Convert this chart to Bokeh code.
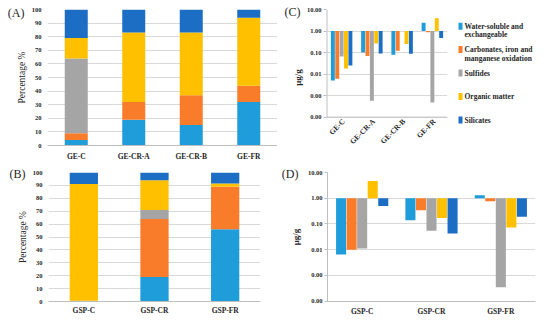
import math
from bokeh.plotting import figure
from bokeh.layouts import row, column
from bokeh.models import (FactorRange, Range1d, FixedTicker, CustomJSTickFormatter,
                          LinearAxis, ColumnDataSource)
from bokeh.transform import dodge
from bokeh.embed import file_html
from bokeh.resources import INLINE
from bokeh.core.properties import value

# ---------------- data ----------------
keys = ["ws", "carb", "sulf", "org", "sil"]
legend_lines = [["Water-soluble and", "exchangeable"],
                ["Carbonates, iron and", "manganese oxidation"],
                ["Sulfides"], ["Organic matter"], ["Silicates"]]
colors = ["#1E9DDA", "#F97C2A", "#A5A5A5", "#FFC000", "#1C6EC4"]

ge_cats = ["GE-C", "GE-CR-A", "GE-CR-B", "GE-FR"]
gsp_cats = ["GSP-C", "GSP-CR", "GSP-FR"]

# (A) percentage
a_ws = [4, 19, 15, 32]
a_carb = [5, 13, 22, 12]
a_sulf = [55, 0, 0, 0]
a_org = [15, 51, 46, 50]
a_sil = [21, 17, 17, 6]

# (B) percentage
b_ws = [0, 19, 56]
b_carb = [0.5, 45, 33]
b_sulf = [0, 7, 0]
b_org = [90.5, 23, 2.5]
b_sil = [9, 6, 8.5]

# (C) ug/g
c_ws = [0.005, 0.10, 0.078, 2.4]
c_carb = [0.006, 0.07, 0.12, 0.88]
c_sulf = [0.065, 0.00057, 1.0, 0.00048]
c_org = [0.018, 0.26, 0.25, 3.9]
c_sil = [0.025, 0.09, 0.087, 0.48]

# (D) ug/g
d_ws = [0.0066, 0.14, 1.3]
d_carb = [0.010, 0.34, 0.77]
d_sulf = [0.0113, 0.055, 0.00035]
d_org = [4.7, 0.17, 0.073]
d_sil = [0.50, 0.043, 0.19]

pct_ticks = [0, 10, 20, 30, 40, 50, 60, 70, 80, 90, 100]
log_ticks = [0.0001, 0.001, 0.01, 0.1, 1, 10]

FONT = "Liberation Serif"
TXT = "#262626"
GRID = "#D9D9D9"
AXIS = "#BFBFBF"


def base_fig(x_range, y_range, w, h, bl, br, bt, bb, y_type="linear"):
    p = figure(x_range=x_range, y_range=y_range, width=w, height=h,
               y_axis_type=y_type, output_backend="svg", toolbar_location=None,
               min_border_left=bl, min_border_right=br, min_border_top=bt,
               min_border_bottom=bb)
    p.outline_line_color = None
    p.xgrid.grid_line_color = None
    p.ygrid.grid_line_color = GRID
    p.xaxis.major_tick_line_color = None
    p.xaxis.minor_tick_line_color = None
    p.xaxis.major_tick_out = 0
    p.xaxis.axis_line_color = AXIS
    p.yaxis.minor_tick_line_color = None
    for ax in (p.xaxis, p.yaxis):
        ax.major_label_text_font = FONT
        ax.major_label_text_font_style = "bold"
        ax.major_label_text_color = TXT
        ax.axis_label_text_font = FONT
        ax.axis_label_text_color = TXT
    p.xaxis.major_label_text_font_size = "7.5px"
    p.yaxis.major_label_text_font_size = "6.5px"
    return p


def panel_label(p, lab, y_at):
    # an extra, tick-less left axis whose single tick label is the panel tag;
    # a negative standoff keeps it from widening the left border
    ax = LinearAxis(ticker=FixedTicker(ticks=[y_at]),
                    formatter=CustomJSTickFormatter(code="return '%s';" % lab))
    ax.axis_line_color = None
    ax.major_tick_line_color = None
    ax.minor_tick_line_color = None
    ax.major_tick_out = 0
    ax.major_tick_in = 0
    ax.major_label_standoff = -11
    ax.major_label_text_font = FONT
    ax.major_label_text_font_size = "12px"
    ax.major_label_text_color = TXT
    p.add_layout(ax, "left")


def stacked(cats, vals, w, h, bl, br, bt, bb, xstand):
    src = ColumnDataSource(dict(cat=cats, **dict(zip(keys, vals))))
    p = base_fig(FactorRange(*cats), Range1d(0, 100), w, h, bl, br, bt, bb)
    p.vbar_stack(keys, x="cat", width=0.4, fill_color=colors, line_color=None, source=src)
    p.yaxis.ticker = FixedTicker(ticks=pct_ticks)
    p.ygrid.ticker = FixedTicker(ticks=pct_ticks)
    p.yaxis.axis_line_color = None
    p.yaxis.major_tick_line_color = None
    p.yaxis.major_tick_out = 0
    p.yaxis.major_label_standoff = 6
    p.yaxis.axis_label = "Percentage %"
    p.yaxis.axis_label_text_font_size = "9.5px"
    p.yaxis.axis_label_text_font_style = "normal"
    p.yaxis.axis_label_standoff = 2
    p.xaxis.major_label_standoff = xstand
    return p


def grouped(cats, vals, w, h, bl, br, bt, bb, y_lo, bw, step, ylstand, xstand, own_x):
    src = ColumnDataSource(dict(cat=cats, **dict(zip(keys, vals))))
    p = base_fig(FactorRange(*cats), Range1d(y_lo, log_ticks[-1]), w, h,
                 bl, br, bt, bb, y_type="log")
    n = len(keys)
    for i, k in enumerate(keys):
        off = (i - (n - 1) / 2) * step
        p.vbar(x=dodge("cat", off, range=p.x_range), top=k, bottom=1, width=bw,
               fill_color=colors[i], line_color=None, source=src)
    p.yaxis.ticker = FixedTicker(ticks=log_ticks)
    p.ygrid.ticker = FixedTicker(ticks=log_ticks)
    p.yaxis.formatter = CustomJSTickFormatter(code="return tick.toFixed(2);")
    p.yaxis.major_tick_line_color = AXIS
    p.yaxis.major_tick_out = 3
    p.yaxis.major_tick_in = 0
    p.yaxis.major_label_standoff = 2
    p.yaxis.axis_label = "μg/g"
    p.yaxis.axis_label_text_font_size = "9px"
    p.yaxis.axis_label_text_font_style = "bold"
    p.yaxis.axis_label_standoff = ylstand
    p.xaxis.major_label_standoff = xstand
    if own_x:
        # axis lines end at the lowest tick; category labels drawn rotated below it
        p.xaxis.visible = False
        p.yaxis.axis_line_color = None
        p.segment(x0=[0], y0=[log_ticks[0]], x1=[0], y1=[log_ticks[-1]],
                  line_color=AXIS, line_width=2)
        p.segment(x0=[0], y0=[log_ticks[0]], x1=[len(cats)], y1=[log_ticks[0]],
                  line_color=AXIS, line_width=1)
        p.text(x="cat", y=log_ticks[0], text="cat", source=src, angle=math.pi / 4,
               text_align="right", text_baseline="middle", x_offset=2, y_offset=3,
               text_font=value(FONT), text_font_style="bold", text_font_size="7.5px",
               text_color=TXT)
    else:
        p.yaxis.axis_line_color = AXIS
    return p


# row 1 : frames share top 9 / bottom 148 (row alignment)
pA = stacked(ge_cats, [a_ws, a_carb, a_sulf, a_org, a_sil], 277, 163, 47, 0, 9, 15, 6)
panel_label(pA, "(A)", 97.1)

C_LO = 10 ** (-4 - 29 / 22)
pC = grouped(ge_cats, [c_ws, c_carb, c_sulf, c_org, c_sil], 173, 163, 49, 3, 9, 15,
             C_LO, 0.13, 0.145, 1, 2, True)
panel_label(pC, "(C)", 7.3)

# legend panel (separate small figure to the right of C)
pL = figure(x_range=Range1d(0, 100), y_range=Range1d(148, 9), width=100, height=163,
            x_axis_type=None, y_axis_type=None, output_backend="svg",
            toolbar_location=None, min_border_left=0, min_border_right=0,
            min_border_top=9, min_border_bottom=15)
pL.outline_line_color = None
pL.xgrid.grid_line_color = None
pL.ygrid.grid_line_color = None
sq_x, sq_y, tx, ty, tt = [], [], [], [], []
for i, lines in enumerate(legend_lines):
    y0 = 26 + 24 * i
    sq_x.append(10)
    sq_y.append(y0)
    for j, line in enumerate(lines):
        tx.append(14)
        ty.append(y0 + 9 * j)
        tt.append(line)
pL.rect(x=sq_x, y=sq_y, width=4, height=7, width_units="screen", height_units="screen",
        fill_color=colors, line_color=None)
pL.text(x=tx, y=ty, text=tt, text_baseline="middle", text_align="left",
        text_font=value(FONT), text_font_style="bold", text_font_size="7.5px",
        text_color=TXT)

# row 2 : frames share top 172 / bottom 301
pB = stacked(gsp_cats, [b_ws, b_carb, b_sulf, b_org, b_sil], 270, 164, 48, 10, 9, 26, 4)
panel_label(pB, "(B)", 99.2)
pD = grouped(gsp_cats, [d_ws, d_carb, d_sulf, d_org, d_sil], 280, 164, 57, 15, 9, 26,
             10 ** (-4.01), 0.145, 0.152, 4, 5, False)
panel_label(pD, "(D)", 9.1)

layout = column(row(pA, pC, pL), row(pB, pD))
open("out.html", "w").write(file_html(layout, INLINE))
